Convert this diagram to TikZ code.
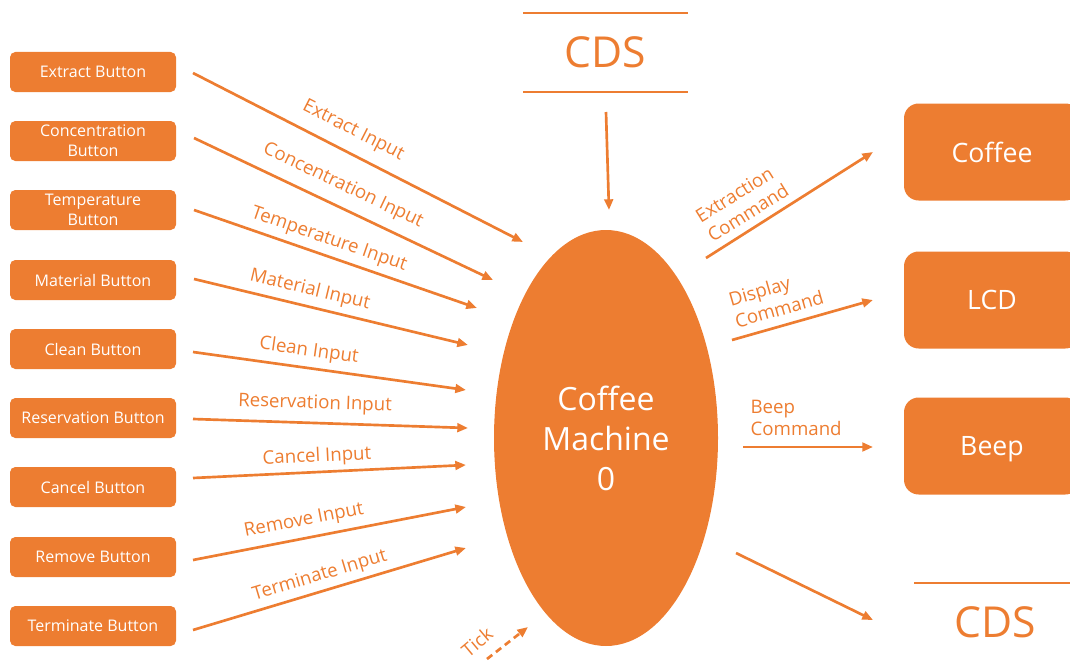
\documentclass[tikz,border=0pt]{standalone}
\usepackage{fontspec}
\setmainfont{Open Sans}
\usetikzlibrary{arrows.meta,shapes.geometric}
\definecolor{org}{HTML}{ED7D31}
\begin{document}
\begin{tikzpicture}[x=0.75pt,y=-0.75pt,
  btn/.style={fill=org, rounded corners=4pt, minimum width=124.5pt, minimum height=30pt,
    text=white, align=center, font=\fontsize{12}{15}\selectfont, inner sep=0pt},
  outbox/.style={fill=org, rounded corners=11pt, minimum width=132pt, minimum height=72.75pt,
    text=white, font=\fontsize{20}{24}\selectfont, inner sep=0pt, text depth=0pt},
  arr/.style={draw=org, line width=2pt, -{Triangle[length=8pt,width=6.5pt]}},
  lbl/.style={text=org, font=\fontsize{14}{17}\selectfont, inner sep=1pt},
  cds/.style={text=org, font=\fontsize{32}{36}\selectfont, inner sep=0pt},
  bar/.style={draw=org, line width=1.5pt},
]
\clip (0,0) rectangle (1070,660);
% input buttons
\node[btn] (b1) at (93,72)  {Extract Button};
\node[btn] (b2) at (93,141) {Concentration\\Button};
\node[btn] (b3) at (93,210) {Temperature\\Button};
\node[btn] (b4) at (93,280) {Material Button};
\node[btn] (b5) at (93,349) {Clean Button};
\node[btn] (b6) at (93,418) {Reservation Button};
\node[btn] (b7) at (93,487) {Cancel Button};
\node[btn] (b8) at (93,557) {Remove Button};
\node[btn] (b9) at (93,626) {Terminate Button};
% central process
\node[ellipse, fill=org, minimum width=168pt, minimum height=312pt, inner sep=0pt,
  text=white, align=center, font=\fontsize{24}{30}\selectfont] (cm) at (606,438)
  {Coffee\\Machine\\0};
% output boxes
\node[outbox] (coffee) at (992,152) {Coffee};
\node[outbox] (lcd) at (992,300) {LCD};
\node[outbox] (beep) at (992,446) {Beep};
% CDS stores
\node[cds] (cdsT) at (605,52) {CDS};
\draw[bar] (523,13) -- (688,13);
\draw[bar] (523,92) -- (688,92);
\node[cds] (cdsB) at (995,622) {CDS};
\draw[bar] (914,583) -- (1070,583);
% connector ends near the machine
\coordinate (i1) at (523,242);
\coordinate (i2) at (493,280);
\coordinate (i3) at (477,308);
\coordinate (i4) at (468,345);
\coordinate (i5) at (466,390);
\coordinate (i6) at (468,428);
\coordinate (i7) at (466,465);
\coordinate (i8) at (466,507);
\coordinate (i9) at (466,548);
\coordinate (s1) at (193,73);
\coordinate (s2) at (194,138);
\coordinate (s3) at (194,210);
\coordinate (s4) at (194,279);
\coordinate (s5) at (193,352);
\coordinate (s6) at (193,419);
\coordinate (s7) at (193,478);
\coordinate (s8) at (193,560);
\coordinate (s9) at (193,630);
\draw[arr] (s1) -- (i1);
\draw[arr] (s2) -- (i2);
\draw[arr] (s3) -- (i3);
\draw[arr] (s4) -- (i4);
\draw[arr] (s5) -- (i5);
\draw[arr] (s6) -- (i6);
\draw[arr] (s7) -- (i7);
\draw[arr] (s8) -- (i8);
\draw[arr] (s9) -- (i9);
\node[lbl, rotate=-27]  (l1) at (353,131) {Extract Input};
\node[lbl, rotate=-25.4] (l2) at (343,186) {Concentration Input};
\node[lbl, rotate=-19]  (l3) at (329,240) {Temperature Input};
\node[lbl, rotate=-13.5] (l4) at (310,290) {Material Input};
\node[lbl, rotate=-8]   (l5) at (309,351) {Clean Input};
\node[lbl, rotate=-1.9] (l6) at (315,404) {Reservation Input};
\node[lbl, rotate=2.7]  (l7) at (317,457) {Cancel Input};
\node[lbl, rotate=11]   (l8) at (304,521) {Remove Input};
\node[lbl, rotate=16.7] (l9) at (320,576) {Terminate Input};
% CDS into machine
\coordinate (c0) at (606,112);
\coordinate (c1) at (609,210);
\draw[arr] (c0) -- (c1);
% outputs
\coordinate (o1) at (706,258);
\coordinate (o2) at (732,340);
\coordinate (o3) at (743,447);
\coordinate (o4) at (736,553);
\coordinate (e1) at (873,152);
\coordinate (e2) at (873,300);
\coordinate (e3) at (873,447);
\coordinate (e4) at (873,620);
\draw[arr] (o1) -- (e1);
\draw[arr] (o2) -- (e2);
\draw[arr] (o3) -- (e3);
\draw[arr] (o4) -- (e4);
\node[lbl, rotate=32, align=left] (lo1) at (742,203) {Extraction\\Command};
\node[lbl, rotate=16, align=left] (lo2) at (776,298) {Display\\Command};
\node[lbl, align=left, anchor=west] (lo3) at (749,418) {Beep\\Command};
% tick
\coordinate (t0) at (487,659);
\coordinate (t1) at (528,627);
\draw[arr, dash pattern=on 5pt off 3.5pt] (t0) -- (t1);
\node[lbl, rotate=40] (lt) at (477,642) {Tick};
\end{tikzpicture}
\end{document}
